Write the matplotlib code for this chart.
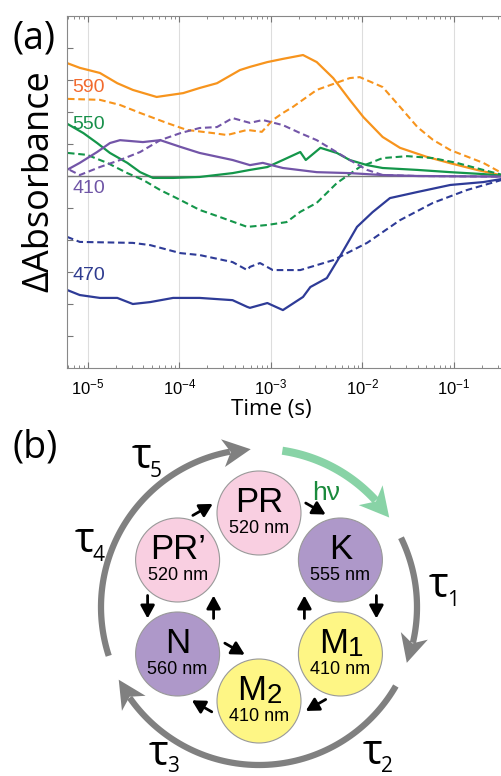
import numpy as np
import matplotlib
matplotlib.use("Agg")
import matplotlib.pyplot as plt
from matplotlib.patches import Circle, Polygon
from matplotlib.lines import Line2D

plt.rcParams['font.family'] = ['Liberation Sans', 'DejaVu Sans']
plt.rcParams['mathtext.fontset'] = 'custom'
plt.rcParams['mathtext.rm'] = 'Liberation Sans'
plt.rcParams['mathtext.default'] = 'regular'

# ---------------- panel (a): log10(time / s) and delta absorbance ----------------
t_590_mono = [-5.23, -5.09, -4.87, -4.68, -4.51, -4.25, -3.96, -3.78, -3.59, -3.34, -3.23, -3.04,
              -2.87, -2.65, -2.5, -2.32, -2.14, -1.99, -1.78, -1.59, -1.3, -1.04, -0.75, -0.45]
a_590_mono = [3.53, 3.38, 3.22, 2.9, 2.69, 2.47, 2.59, 2.75, 2.9, 3.31, 3.41, 3.56,
              3.66, 3.78, 3.56, 3.06, 2.38, 1.84, 1.22, 0.88, 0.6, 0.4, 0.19, 0.0]

t_590_pent = [-5.22, -4.87, -4.65, -4.43, -4.14, -3.92, -3.63, -3.48, -3.26, -3.1, -2.98, -2.87,
              -2.76, -2.5, -2.14, -2.03, -1.78, -1.59, -1.4, -1.23, -1.04, -0.68, -0.45]
a_590_pent = [2.41, 2.38, 2.22, 1.97, 1.66, 1.44, 1.34, 1.28, 1.44, 1.38, 1.75, 1.97,
              2.16, 2.69, 3.06, 3.09, 2.78, 2.16, 1.53, 1.13, 0.81, 0.41, 0.05]

t_550_mono = [-5.22, -5.05, -4.9, -4.76, -4.57, -4.43, -4.29, -4.07, -3.78, -3.42, -3.23, -3.04,
              -2.87, -2.68, -2.62, -2.46, -2.28, -2.14, -1.95, -1.78, -1.4, -1.04, -0.68, -0.45]
a_550_mono = [1.62, 1.34, 1.03, 0.72, 0.41, 0.12, -0.06, -0.06, -0.03, 0.09, 0.19, 0.28,
              0.5, 0.75, 0.5, 0.88, 0.72, 0.5, 0.34, 0.25, 0.19, 0.12, 0.06, 0.0]

t_550_pent = [-5.22, -5.01, -4.79, -4.57, -4.4, -4.21, -3.99, -3.78, -3.56, -3.26, -3.04, -2.83,
              -2.68, -2.5, -2.28, -2.03, -1.78, -1.51, -1.23, -0.97, -0.68, -0.45]
a_550_pent = [0.72, 0.66, 0.41, 0.09, -0.12, -0.44, -0.75, -1.06, -1.28, -1.59, -1.53, -1.44,
              -1.12, -0.84, -0.22, 0.28, 0.56, 0.62, 0.56, 0.41, 0.19, 0.02]

t_410_mono = [-5.23, -5.09, -4.9, -4.76, -4.65, -4.4, -4.21, -3.99, -3.78, -3.42, -3.23, -3.09,
              -2.87, -2.5, -2.14, -1.78, -1.4, -0.45]
a_410_mono = [0.19, 0.41, 0.75, 1.03, 1.12, 1.06, 1.12, 0.91, 0.72, 0.5, 0.34, 0.41,
              0.25, 0.12, 0.09, 0.03, 0.0, -0.02]

t_410_pent = [-5.2, -5.09, -4.87, -4.65, -4.43, -4.21, -3.99, -3.78, -3.59, -3.42, -3.23, -3.09,
              -2.87, -2.68, -2.5, -2.32, -2.14, -1.95, -1.78, -1.4, -0.45]
a_410_pent = [0.19, 0.03, 0.28, 0.5, 0.75, 1.12, 1.34, 1.5, 1.53, 1.81, 1.66, 1.75,
              1.59, 1.34, 1.12, 0.81, 0.5, 0.19, 0.03, 0.0, -0.02]

t_470_mono = [-5.23, -5.09, -4.87, -4.68, -4.51, -4.32, -4.07, -3.78, -3.42, -3.26, -3.23, -3.04,
              -2.87, -2.65, -2.57, -2.39, -2.25, -2.06, -1.89, -1.7, -1.4, -1.04, -0.68, -0.45]
a_470_mono = [-3.56, -3.72, -3.81, -3.81, -4.0, -3.94, -3.81, -3.81, -3.88, -4.09, -4.12, -3.97,
              -4.19, -3.78, -3.47, -3.19, -2.53, -1.59, -1.13, -0.69, -0.5, -0.28, -0.19, -0.08]

t_470_pent = [-5.23, -5.09, -4.51, -4.32, -3.99, -3.78, -3.42, -3.26, -3.23, -3.12, -2.98, -2.68,
              -2.32, -1.95, -1.59, -1.23, -0.86, -0.45]
a_470_pent = [-1.9, -2.06, -2.09, -2.16, -2.41, -2.47, -2.69, -2.94, -2.84, -2.72, -2.94, -2.94,
              -2.63, -2.09, -1.38, -0.84, -0.44, -0.1]

wavelengths = ['590', '550', '410', '470']
line_colors = ['#f7941d', '#14964a', '#7355a8', '#2e3b97']
label_colors = ['#f26a2e', '#17904a', '#6f55a6', '#2e3b8f']
label_pos = [2.75, 1.62, -0.38, -3.12]

# ---------------- panel (b): photocycle states ----------------
states = ['PR', 'K', 'M', 'M', 'N', 'PR\u2019']
state_subs = ['', '', '1', '2', '', '']
state_nm = [520, 555, 410, 410, 560, 520]
state_colors = ['#f9cfe1', '#ae98c9', '#fef685', '#fef685', '#ae98c9', '#f9cfe1']
state_angles = [90, 30, -30, -90, -150, 150]
# small transitions between neighbouring states: (from, to, side)
transitions = [(0, 1, 32), (1, 2, 36), (2, 1, -36), (2, 3, 32), (3, 4, 33),
               (4, 3, -33), (5, 4, 30), (4, 5, -36), (5, 0, 31)]
tau_labels = ['1', '2', '3', '4', '5']

fig = plt.figure(figsize=(5.01, 7.76), dpi=100)
W, H = 501.0, 776.0

# background axes in pixel coordinates for the diagram
ax2 = fig.add_axes([0, 0, 1, 1])
ax2.set_xlim(0, W)
ax2.set_ylim(H, 0)
ax2.axis('off')

# ---- panel (a)
ax = fig.add_axes([67 / W, 1 - 368 / H, 478.5 / W, 352 / H])
series = [
    (t_590_mono, a_590_mono, t_590_pent, a_590_pent),
    (t_550_mono, a_550_mono, t_550_pent, a_550_pent),
    (t_410_mono, a_410_mono, t_410_pent, a_410_pent),
    (t_470_mono, a_470_mono, t_470_pent, a_470_pent),
]
for (tm, am, tp, ap), col in zip(series, line_colors):
    ax.plot(10 ** np.array(tp), ap, color=col, lw=1.5, ls=(0, (3.2, 1.8)))
    ax.plot(10 ** np.array(tm), am, color=col, lw=1.6)

ax.axhline(0, color='#7a7a7a', lw=1.0, zorder=1)
ax.set_xscale('log')
ax.set_xlim(10 ** -5.2295, 1)
ax.set_ylim(-6, 5)
ax.set_xticks([1e-5, 1e-4, 1e-3, 1e-2, 1e-1])
ax.set_xticklabels(['$10^{-5}$', '$10^{-4}$', '$10^{-3}$', '$10^{-2}$', '$10^{-1}$'], fontsize=12)
ax.set_yticks(range(-5, 5))
ax.set_yticklabels([])
ax.tick_params(axis='x', which='both', direction='in', top=True, colors='#777777',
               labelcolor='black', pad=7)
ax.tick_params(axis='x', which='major', length=4)
ax.tick_params(axis='x', which='minor', length=2.5)
ax.tick_params(axis='y', direction='in', length=4, colors='#777777')
ax.grid(axis='x', which='major', color='#dddddd', lw=0.8)
ax.set_axisbelow(True)
for s in ax.spines.values():
    s.set_color('#888888')
    s.set_linewidth(0.8)

for name, col, yp in zip(wavelengths, label_colors, label_pos):
    ax.text(10 ** -5.17, yp, name, color=col, fontsize=14, ha='left', va='center')

ax.set_xlabel('Time (s)', fontsize=16, family=['Open Sans', 'DejaVu Sans'], labelpad=1,
              x=(271 - 67) / 478.5)

fig.text(39 / W, 1 - 181 / H, '\u0394Absorbance', rotation=90, fontsize=26,
         family=['Open Sans', 'DejaVu Sans'], ha='center', va='center')
fig.text(12 / W, 1 - 38 / H, '(a)', fontsize=27, family=['Open Sans', 'DejaVu Sans'],
         ha='left', va='center')

# legend drawn by hand
ax2.add_line(Line2D([336, 387], [31, 31], color='black', lw=2.4))
ax2.add_line(Line2D([336, 381], [61, 61], color='black', lw=2.6, ls=(0, (1.8, 0.8))))
ax2.text(392, 32, '= monomer', fontsize=14, ha='left', va='center')
ax2.text(390, 56, '= pentamer/', fontsize=14, ha='left', va='center')
ax2.text(456, 73, 'hexamer', fontsize=14, ha='center', va='center')

# ---- panel (b)
cx, cy = 259.0, 607.0
ring_r = 94.0
state_r = 42.0
outer_r = 158.0

centers = []
for ang in state_angles:
    th = np.radians(ang)
    centers.append(np.array([cx + ring_r * np.cos(th), cy - ring_r * np.sin(th)]))

for c, name, sub, nm, col in zip(centers, states, state_subs, state_nm, state_colors):
    ax2.add_patch(Circle(c, state_r, facecolor=col, edgecolor='#999999', lw=0.8, zorder=3))
    if sub:
        ax2.text(c[0] - 7, c[1] - 1, name, fontsize=25, ha='center', va='baseline', zorder=4)
        ax2.text(c[0] + 15, c[1] + 2, sub, fontsize=20, ha='center', va='baseline', zorder=4)
    else:
        ax2.text(c[0], c[1] - 1, name, fontsize=25, ha='center', va='baseline', zorder=4)
    ax2.text(c[0], c[1] + 20, '%d nm' % nm, fontsize=13, ha='center', va='baseline', zorder=4)

ring_c = np.array([cx, cy])
for i, j, side in transitions:
    a, b = centers[i], centers[j]
    mid = (a + b) / 2
    d = (b - a) / np.linalg.norm(b - a)
    out = (mid - ring_c) / np.linalg.norm(mid - ring_c)
    p = mid + side * out
    L = 23
    ax2.annotate('', xy=p + d * L / 2, xytext=p - d * L / 2,
                 arrowprops=dict(arrowstyle='-|>,head_length=0.55,head_width=0.3', color='black',
                                 lw=2.0, mutation_scale=14, shrinkA=0, shrinkB=0), zorder=5)


def pt(th_deg, r=outer_r):
    th = np.radians(th_deg)
    return np.array([cx + r * np.cos(th), cy - r * np.sin(th)])


def curved_arrow(th0, th1, color, lw, head_len, head_w):
    # clockwise arc from th0 down to th1 (degrees), arrow tip at th1
    back = np.degrees(head_len * 0.75 / outer_r)
    ths = np.linspace(th0, th1 + back, 80)
    pts = np.array([pt(t) for t in ths])
    ax2.plot(pts[:, 0], pts[:, 1], color=color, lw=lw, solid_capstyle='butt', zorder=2)
    tip = pt(th1)
    th = np.radians(th1 + np.degrees(head_len * 0.5 / outer_r))
    u = np.array([np.sin(th), np.cos(th)])
    n = np.array([-u[1], u[0]])
    base = tip - u * head_len
    notch = tip - u * head_len * 0.72
    ax2.add_patch(Polygon([tip, base + n * head_w / 2, notch, base - n * head_w / 2],
                          closed=True, facecolor=color, edgecolor='none', zorder=2))


gray = '#808080'
curved_arrow(198, 93, gray, 4.5, 28, 28)
curved_arrow(81.5, 34.5, '#88d3a6', 5.8, 29, 31)
curved_arrow(26, -20.7, gray, 4.5, 28, 28)
curved_arrow(-30, -152.6, gray, 4.5, 28, 28)

ax2.text(326, 500, 'h\u03bd', fontsize=19, color='#1a8a3c', ha='center', va='baseline')

tau_pos = [(438, 597), (372, 764), (158, 765), (84, 552), (141, 468)]
for lab, (tx, ty) in zip(tau_labels, tau_pos):
    ax2.text(tx, ty, '\u03c4', fontsize=30, ha='center', va='baseline',
             family=['Open Sans', 'DejaVu Sans'])
    ax2.text(tx + 15, min(ty + 9, 772), lab, fontsize=15, ha='center', va='baseline',
             family=['Open Sans', 'DejaVu Sans'])

fig.text(13 / W, 1 - 448 / H, '(b)', fontsize=27, family=['Open Sans', 'DejaVu Sans'],
         ha='left', va='center')

fig.savefig('out.png', dpi=100)
